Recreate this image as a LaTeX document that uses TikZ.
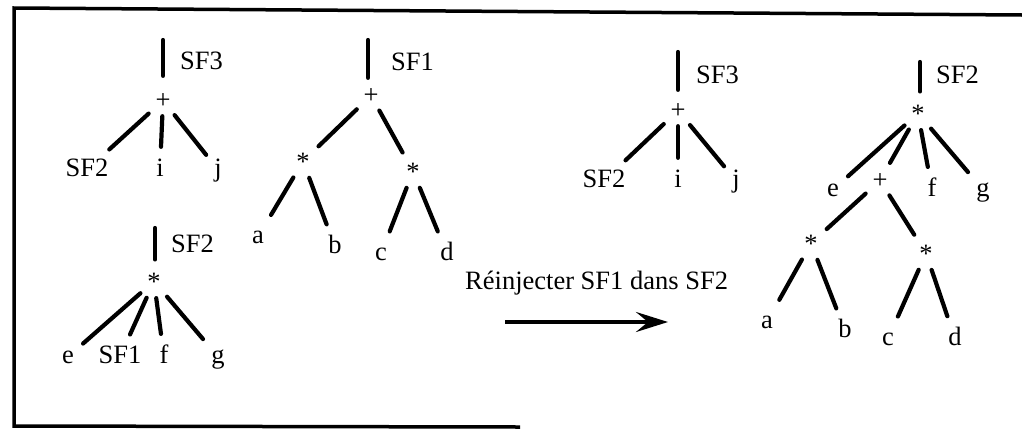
\documentclass[tikz,border=0pt]{standalone}
\usepackage{fontspec}
\setmainfont{Liberation Serif}
\usetikzlibrary{arrows.meta}

\begin{document}
\begin{tikzpicture}[
  x=1pt, y=-1pt,
  every node/.style={font=\fontsize{26.5pt}{31pt}\selectfont, inner sep=3pt, anchor=base},
  leaf/.style={text height=18pt, text depth=5.5pt},
  branch/.style={line width=4.2pt, line cap=round, shorten <=5pt, shorten >=8pt},
  stem/.style={line width=4.2pt, line cap=round, shorten >=10pt},
  tag/.style={anchor=base west},
  >=Stealth
]
\useasboundingbox (0,0) rectangle (1022,429);

% frame
\draw[line width=3.5pt] (1022,15) -- (14,8) -- (14,426) -- (520,427);

% SF3 (before)
\coordinate (s1) at (163,40);
\node (p1) at (163,108) {+};
\node[leaf] (p1a) at (87,176) {SF2};
\node[leaf] (p1b) at (160,176) {i};
\node[leaf] (p1c) at (218,176) {j};
\node[tag] (n1) at (177,69.5) {SF3};
\draw[stem, shorten >=14pt] (s1) -- (s1 |- p1.north);
\draw[branch] (p1) -- (p1a);
\draw[branch] (p1) -- (p1b);
\draw[branch] (p1) -- (p1c);

% SF1
\coordinate (s2) at (368,40);
\node (p2) at (371,103) {+};
\node (x2) at (303,170) {*};
\node (y2) at (413,180) {*};
\node[leaf] (a2) at (258,243) {a};
\node[leaf] (b2) at (335,253) {b};
\node[leaf] (c2) at (381,260) {c};
\node[leaf] (d2) at (447,260) {d};
\node[tag] (n2) at (388,70) {SF1};
\draw[stem, shorten >=7pt] (s2) -- (s2 |- p2.north);
\draw[branch] (p2) -- (x2);
\draw[branch] (p2) -- (y2);
\draw[branch] (x2) -- (a2);
\draw[branch] (x2) -- (b2);
\draw[branch] (y2) -- (c2);
\draw[branch] (y2) -- (d2);

% SF2 (before)
\coordinate (s3) at (155,228);
\node (x3) at (154,290) {*};
\node[leaf] (x3a) at (68,363) {e};
\node[leaf] (x3b) at (120,363) {SF1};
\node[leaf] (x3c) at (164,363) {f};
\node[leaf] (x3d) at (218,363) {g};
\node[tag] (n3) at (168,252) {SF2};
\draw[stem] (s3) -- (s3 |- x3.north);
\draw[branch] (x3) -- (x3a);
\draw[branch] (x3) -- (x3b);
\draw[branch] (x3) -- (x3c);
\draw[branch] (x3) -- (x3d);

% transformation
\node[tag] (msg) at (462,289) {Réinjecter SF1 dans SF2};
\coordinate (r1) at (505,322);
\coordinate (r2) at (668,322);
\draw[line width=4pt, -{Stealth[length=32pt, width=20pt, inset=12pt]}] (r1) -- (r2);

% SF3 (after)
\coordinate (s4) at (678,52);
\node (p4) at (678,118) {+};
\node[leaf] (p4a) at (604,187) {SF2};
\node[leaf] (p4b) at (678,187) {i};
\node[leaf] (p4c) at (736,187) {j};
\node[tag] (n4) at (693,83) {SF3};
\draw[stem] (s4) -- (s4 |- p4.north);
\draw[branch] (p4) -- (p4a);
\draw[branch] (p4) -- (p4b);
\draw[branch] (p4) -- (p4c);

% SF2 (after)
\coordinate (s5) at (920,62);
\node (x5) at (918,122) {*};
\node[leaf] (x5a) at (833,196) {e};
\node (p5) at (880,188) {+};
\node[leaf] (x5c) at (932,196) {f};
\node[leaf] (x5d) at (983,196) {g};
\node[tag] (n5) at (933,83) {SF2};
\node (x6) at (811,252) {*};
\node (y6) at (926,262) {*};
\node[leaf] (a6) at (767,328) {a};
\node[leaf] (b6) at (845,337) {b};
\node[leaf] (c6) at (888,345) {c};
\node[leaf] (d6) at (955,345) {d};
\draw[stem] (s5) -- (s5 |- x5.north);
\draw[branch] (x5) -- (x5a);
\draw[branch] (x5) -- (p5);
\draw[branch] (x5) -- (x5c);
\draw[branch] (x5) -- (x5d);
\draw[branch] (p5) -- (x6);
\draw[branch] (p5) -- (y6);
\draw[branch] (x6) -- (a6);
\draw[branch] (x6) -- (b6);
\draw[branch] (y6) -- (c6);
\draw[branch] (y6) -- (d6);

\end{tikzpicture}
\end{document}
